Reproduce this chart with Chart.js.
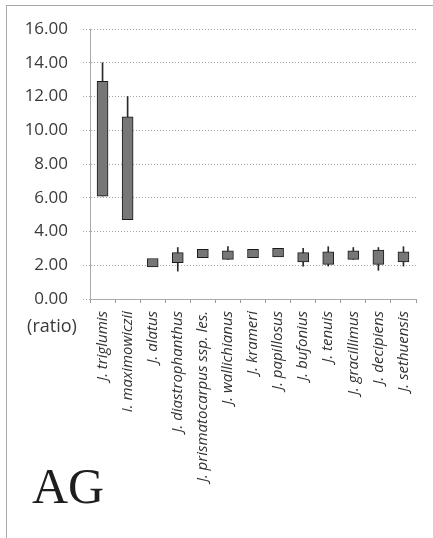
<!DOCTYPE html>
<html>
<head>
<meta charset="utf-8">
<script src="https://cdn.jsdelivr.net/npm/chart.js@4/dist/chart.umd.min.js"></script>
<style>
  html, body { margin: 0; padding: 0; background: #fff; }
  #wrap { position: relative; width: 433px; height: 538px; overflow: hidden; }
  #frame { position: absolute; left: 6px; top: 5px; width: 440px; height: 545px;
           border-left: 1px solid #a8a8a8; border-top: 1px solid #a8a8a8; pointer-events: none; }
  canvas { position: absolute; left: 0; top: 0; }
</style>
</head>
<body>
<div id="wrap">
  <canvas id="c" width="433" height="538"></canvas>
  <div id="frame"></div>
</div>
<script>
// Species along the category axis
const species = [
  'J. triglumis', 'I. maximowiczii', 'J. alatus', 'J. diastrophanthus',
  'J. prismatocarpus ssp. les.', 'J. wallichianus', 'J. krameri', 'J. papillosus',
  'J. bufonius', 'J. tenuis', 'J. gracillimus', 'J. decipiens', 'J. sethuensis'
];

// Box extents (ratio)
const boxLow  = [6.10, 4.70, 1.90, 2.15, 2.45, 2.35, 2.45, 2.50, 2.20, 2.05, 2.35, 2.05, 2.20];
const boxHigh = [12.90, 10.80, 2.40, 2.75, 2.95, 2.85, 2.95, 3.00, 2.75, 2.80, 2.85, 2.90, 2.80];

// Whisker extents (null where no whisker is drawn)
const whiskerLow  = [6.10, 4.70, null, 1.65, null, 2.35, null, null, 1.95, 1.95, 2.35, 1.70, 1.95];
const whiskerHigh = [14.00, 12.00, null, 3.05, null, 3.10, null, null, 3.00, 3.10, 3.05, 3.05, 3.10];

// Y axis ticks
const yTicks = [0, 2, 4, 6, 8, 10, 12, 14, 16];

const boxes = species.map((_, i) => [boxLow[i], boxHigh[i]]);
const whiskers = species.map((_, i) =>
  whiskerLow[i] === null ? null : [whiskerLow[i], whiskerHigh[i]]);

const CHART_TOP = 29, CHART_BOTTOM = 299, AXIS_LEFT = 90;

const extraText = {
  id: 'extraText',
  afterDraw(chart) {
    const ctx = chart.ctx;
    const y0 = chart.scales.y.getPixelForValue(0);
    ctx.save();
    ctx.fillStyle = '#3a3a3a';
    ctx.font = '18px "Open Sans"';
    ctx.textAlign = 'center';
    ctx.textBaseline = 'middle';
    ctx.fillText('(ratio)', 52, y0 + 28);
    ctx.fillStyle = '#1e1e1e';
    ctx.font = '50px "Liberation Serif"';
    ctx.textAlign = 'left';
    ctx.textBaseline = 'alphabetic';
    ctx.fillText('AG', 32, 503);
    ctx.restore();
  }
};

new Chart(document.getElementById('c'), {
  type: 'bar',
  data: {
    labels: species,
    datasets: [
      {
        label: 'whisker',
        data: whiskers,
        grouped: false,
        barThickness: 1,
        backgroundColor: '#2a2a2a',
        borderWidth: 0,
        order: 2
      },
      {
        label: 'box',
        data: boxes,
        grouped: false,
        barThickness: 11,
        backgroundColor: '#777777',
        borderColor: '#1a1a1a',
        borderWidth: 1,
        borderSkipped: false,
        order: 1
      }
    ]
  },
  options: {
    responsive: false,
    animation: false,
    layout: { padding: { top: CHART_TOP, right: 17, left: 0, bottom: 0 } },
    plugins: { legend: { display: false }, tooltip: { enabled: false } },
    scales: {
      x: {
        type: 'category',
        offset: true,
        grid: { drawOnChartArea: false, drawTicks: true, tickLength: 4, color: '#9a9a9a', offset: true },
        border: { display: true, color: '#aaaaaa' },
        ticks: {
          minRotation: 90, maxRotation: 90, autoSkip: false, padding: 8,
          color: '#333333',
          font: { family: '"Open Sans"', style: 'italic', size: 15 }
        },
        afterFit(scale) { scale.height = 538 - CHART_BOTTOM; }
      },
      y: {
        min: 0, max: 16,
        afterBuildTicks(scale) { scale.ticks = yTicks.map(v => ({ value: v })); },
        grid: { color: '#a5a5a5', tickLength: 7, tickColor: '#a5a5a5', tickBorderDash: [1, 2] },
        border: { display: true, color: '#aaaaaa', dash: [1, 2] },
        ticks: {
          padding: 15, color: '#3a3a3a',
          font: { family: '"Open Sans"', size: 17 },
          callback: v => Number(v).toFixed(2)
        },
        afterFit(scale) { scale.width = AXIS_LEFT; }
      }
    }
  },
  plugins: [extraText]
});
</script>
</body>
</html>
